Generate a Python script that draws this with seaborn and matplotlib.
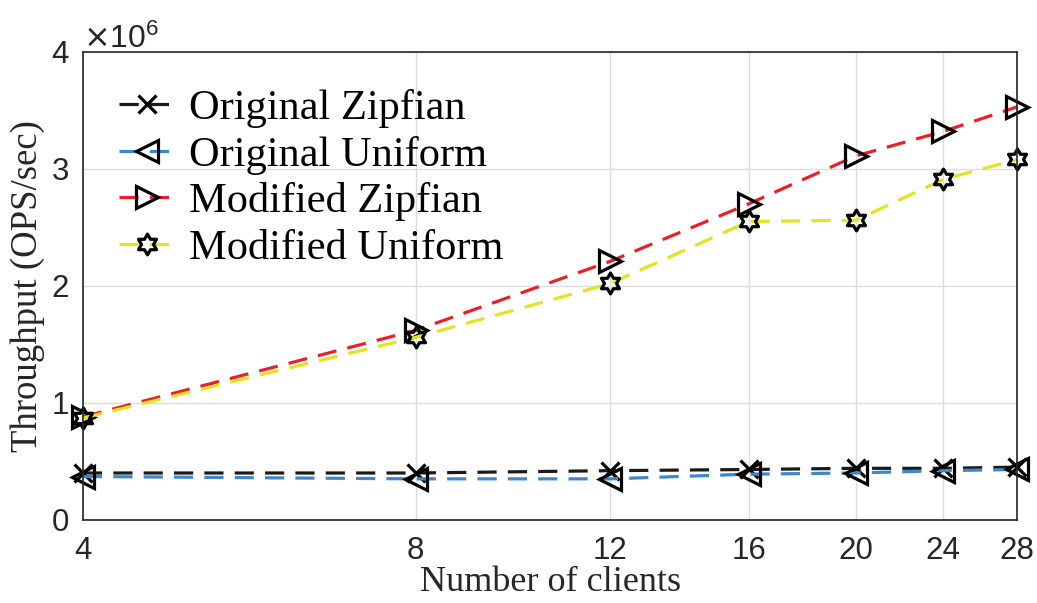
import numpy as np
import pandas as pd
import seaborn as sns
import matplotlib.pyplot as plt
from matplotlib.path import Path
from matplotlib.ticker import FixedLocator, FixedFormatter, NullFormatter, LogLocator

# data
clients = [4, 8, 12, 16, 20, 24, 28]
orig_zipf = [0.40e6, 0.40e6, 0.42e6, 0.43e6, 0.44e6, 0.44e6, 0.45e6]
orig_unif = [0.37e6, 0.35e6, 0.35e6, 0.39e6, 0.40e6, 0.42e6, 0.43e6]
mod_zipf = [0.88e6, 1.62e6, 2.21e6, 2.70e6, 3.11e6, 3.32e6, 3.53e6]
mod_unif = [0.87e6, 1.56e6, 2.02e6, 2.55e6, 2.56e6, 2.91e6, 3.08e6]
labels = ["Original Zipfian", "Original Uniform", "Modified Zipfian", "Modified Uniform"]
colors = ["#1a1a1a", "#3d88cc", "#e8202a", "#e3e322"]

sns.set_style("white")
plt.rcParams['font.family'] = ['Liberation Sans', 'DejaVu Sans']

# hexagram marker (6-point star)
ang = np.deg2rad(np.arange(12) * 30 + 90)
rad = np.where(np.arange(12) % 2 == 0, 1.0, 1 / np.sqrt(3))
verts = np.column_stack([rad * np.cos(ang), rad * np.sin(ang)])
verts = np.vstack([verts, verts[:1]])
hexagram = Path(verts, [Path.MOVETO] + [Path.LINETO] * 11 + [Path.CLOSEPOLY])

markers = ['x', '<', '>', hexagram]
sizes = [13, 16, 16, 15]

fig = plt.figure(figsize=(10.37, 6.03), dpi=100)
ax = fig.add_axes([0.080, 0.138, 0.901, 0.776])

for yv, lab, col, mk, ms in zip([orig_zipf, orig_unif, mod_zipf, mod_unif], labels, colors, markers, sizes):
    sns.lineplot(x=clients, y=yv, ax=ax, color=col, label=lab, marker=mk,
                 markersize=ms, markerfacecolor='none', markeredgecolor='black',
                 markeredgewidth=2.3, linewidth=2.3, linestyle=(0, (6, 3.5)), clip_on=False)

ax.set_xscale('log')
ax.set_xlim(4, 28)
ax.set_ylim(0, 4e6)
ax.xaxis.set_major_locator(FixedLocator(clients))
ax.xaxis.set_major_formatter(FixedFormatter([str(c) for c in clients]))
ax.xaxis.set_minor_locator(LogLocator(base=10, subs=np.arange(2, 10)))
ax.xaxis.set_minor_formatter(NullFormatter())
ax.set_yticks([0, 1e6, 2e6, 3e6, 4e6])
ax.ticklabel_format(axis='y', style='sci', scilimits=(6, 6), useMathText=True)
ax.yaxis.get_offset_text().set_fontsize(23)
ax.yaxis.get_offset_text().set_color('#262626')

ax.tick_params(which='both', direction='in', labelsize=22.5, colors='#262626', top=False, right=False)
ax.tick_params(axis='x', which='major', pad=12)
ax.tick_params(axis='y', which='major', pad=10)
ax.tick_params(which='major', length=6, width=1)
ax.tick_params(which='minor', length=3.5, width=0.8)
ax.grid(True, which='major', color='#dcdcdc', linewidth=1)
for s in ax.spines.values():
    s.set_visible(True)
    s.set_color('#262626')
    s.set_linewidth(1.2)

ax.set_xlabel("Number of clients", family='Liberation Serif', fontsize=26, color='#262626', labelpad=0)
ax.set_ylabel("Throughput (OPS/sec)", family='Liberation Serif', fontsize=26.5, color='#262626', labelpad=4)

leg = ax.legend(loc='upper left', bbox_to_anchor=(0.011, 0.975), frameon=False,
                prop={'family': 'Liberation Serif', 'size': 30.5}, handlelength=1.35,
                handletextpad=0.3, labelspacing=0.18, borderaxespad=0.2, numpoints=1)
for t in leg.get_texts():
    t.set_color('black')

fig.savefig("out.png", dpi=100)
